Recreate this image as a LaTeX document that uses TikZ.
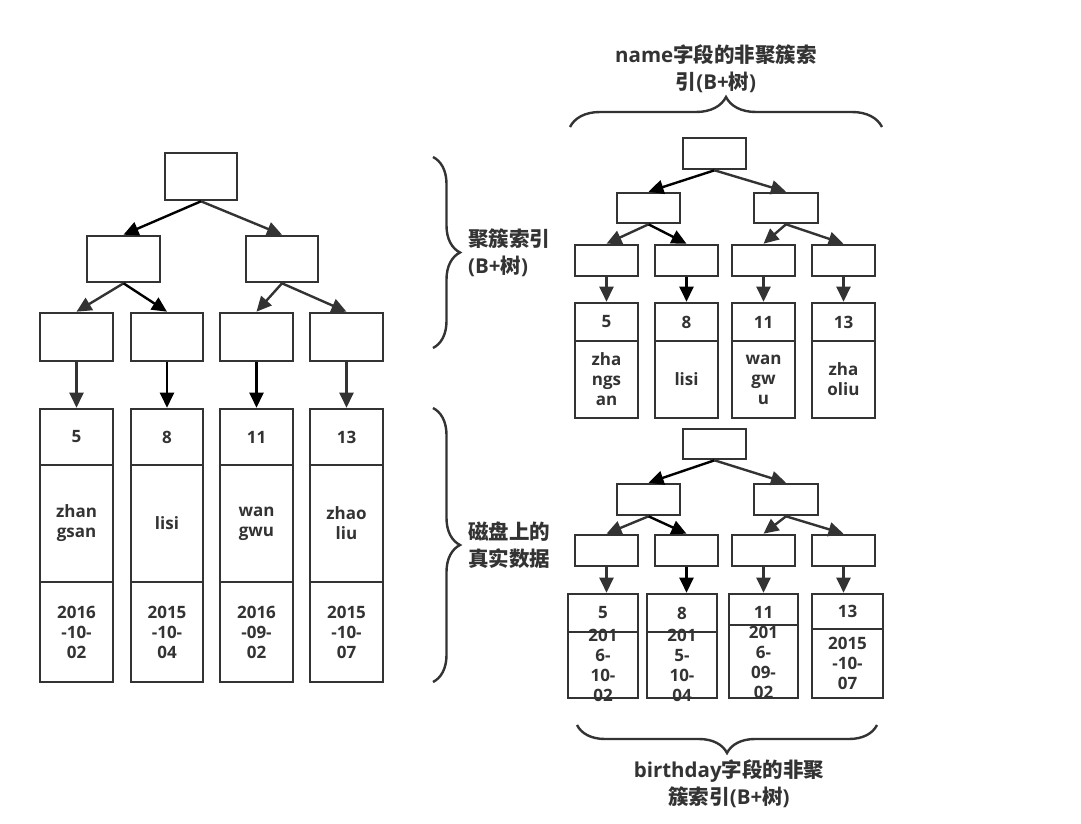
\documentclass[tikz,border=0pt]{standalone}
\usepackage{fontspec}
\setmainfont{Open Sans}
\newfontfamily\cjk{Noto Sans CJK SC}
\usetikzlibrary{arrows.meta,decorations.pathreplacing}
\definecolor{dk}{HTML}{333333}
\begin{document}
\begin{tikzpicture}[x=1pt,y=-1pt,
  box/.style={draw=dk, line width=2.6pt, inner sep=0pt, text=dk, align=center,
    font=\bfseries\fontsize{17}{20}\selectfont},
  txt/.style={inner sep=0pt, text=dk, align=center, font=\bfseries\fontsize{17}{20}\selectfont},
  arr/.style={draw=dk, line width=2.4pt, -{Triangle[length=15pt,width=14pt]}},
  arrk/.style={arr, draw=black},
  brc/.style={draw=dk, line width=2.4pt, decorate, decoration={brace, amplitude=#1}},
  lbl/.style={inner sep=0pt, text=dk, font=\bfseries\fontsize{20.5}{27}\selectfont}]
\useasboundingbox[fill=white] (0,0) rectangle (1081,824);

% ---------------- left tree ----------------
\node[box, minimum width=72, minimum height=47] (A0) at (201,176.5) {};
\node[box, minimum width=73, minimum height=46] (A1) at (123.5,259) {};
\node[box, minimum width=72, minimum height=46] (A2) at (282,259) {};
\node[box, minimum width=73, minimum height=48] (A3) at (76.5,337) {};
\node[box, minimum width=72, minimum height=48] (A4) at (167,337) {};
\node[box, minimum width=73, minimum height=48] (A5) at (256.5,337) {};
\node[box, minimum width=73, minimum height=48] (A6) at (346.5,337) {};

\node[box, minimum width=73, minimum height=56] (D1a) at (76.5,437) {5};
\node[box, minimum width=73, minimum height=117] (D1b) at (76.5,523.5) {zhan\\gsan};
\node[box, minimum width=73, minimum height=100] (D1c) at (76.5,632) {2016\\-10-\\02};
\node[box, minimum width=72, minimum height=56] (D2a) at (167,437) {8};
\node[box, minimum width=72, minimum height=117] (D2b) at (167,523.5) {lisi};
\node[box, minimum width=72, minimum height=100] (D2c) at (167,632) {2015\\-10-\\04};
\node[box, minimum width=73, minimum height=56] (D3a) at (256.5,437) {11};
\node[box, minimum width=73, minimum height=117] (D3b) at (256.5,523.5) {wan\\gwu};
\node[box, minimum width=73, minimum height=100] (D3c) at (256.5,632) {2016\\-09-\\02};
\node[box, minimum width=73, minimum height=56] (D4a) at (346.5,437) {13};
\node[box, minimum width=73, minimum height=117] (D4b) at (346.5,523.5) {zhao\\liu};
\node[box, minimum width=73, minimum height=100] (D4c) at (346.5,632) {2015\\-10-\\07};

\draw[arrk] (A0.south) -- (A1.north);
\draw[arr] (A0.south) -- (A2.north);
\draw[arr] (A1.south) -- (A3.north);
\draw[arrk] (A1.south) -- (A4.north);
\draw[arr] (A2.south) -- (A5.north);
\draw[arr] (A2.south) -- (A6.north);
\draw[arr] (A3.south) -- (D1a.north);
\draw[arrk] (A4.south) -- (D2a.north);
\draw[arrk] (A5.south) -- (D3a.north);
\draw[arr] (A6.south) -- (D4a.north);

% ---------------- top right tree (name) ----------------
\node[box, minimum width=63, minimum height=31] (B0) at (714.5,153.5) {};
\node[box, minimum width=63, minimum height=30] (B1) at (648.5,208) {};
\node[box, minimum width=64, minimum height=30] (B2) at (786,208) {};
\node[box, minimum width=63, minimum height=31] (B3) at (606.5,260.5) {};
\node[box, minimum width=63, minimum height=31] (B4) at (686.5,260.5) {};
\node[box, minimum width=63, minimum height=31] (B5) at (763.5,260.5) {};
\node[box, minimum width=63, minimum height=31] (B6) at (843.5,260.5) {};

\node[box, minimum width=63, minimum height=38] (E1a) at (606.5,322) {5};
\node[box, minimum width=63, minimum height=77] (E1b) at (606.5,379.5) {zha\\ngs\\an};
\node[box, minimum width=63, minimum height=38] (E2a) at (686.5,322) {8};
\node[box, minimum width=63, minimum height=77] (E2b) at (686.5,379.5) {lisi};
\node[box, minimum width=63, minimum height=38] (E3a) at (763.5,322) {11};
\node[box, minimum width=63, minimum height=77] (E3b) at (763.5,379.5) {wan\\gw\\u};
\node[box, minimum width=63, minimum height=38] (E4a) at (843.5,322) {13};
\node[box, minimum width=63, minimum height=77] (E4b) at (843.5,379.5) {zha\\oliu};

\draw[arrk] (B0.south) -- (B1.north);
\draw[arr] (B0.south) -- (B2.north);
\draw[arr] (B1.south) -- (B3.north);
\draw[arrk] (B1.south) -- (B4.north);
\draw[arr] (B2.south) -- (B5.north);
\draw[arr] (B2.south) -- (B6.north);
\draw[arr] (B3.south) -- (E1a.north);
\draw[arrk] (B4.south) -- (E2a.north);
\draw[arr] (B5.south) -- (E3a.north);
\draw[arr] (B6.south) -- (E4a.north);

% ---------------- bottom right tree (birthday) ----------------
\node[box, minimum width=63, minimum height=30] (C0) at (714.5,444) {};
\node[box, minimum width=63, minimum height=31] (C1) at (648.5,499.5) {};
\node[box, minimum width=64, minimum height=31] (C2) at (786,499.5) {};
\node[box, minimum width=63, minimum height=31] (C3) at (606.5,550.5) {};
\node[box, minimum width=63, minimum height=31] (C4) at (686.5,550.5) {};
\node[box, minimum width=63, minimum height=31] (C5) at (763.5,550.5) {};
\node[box, minimum width=63, minimum height=31] (C6) at (843.5,550.5) {};

\node[box, minimum width=70, minimum height=38] (F1a) at (603,613) {5};
\node[box, minimum width=70, minimum height=66] (F1b) at (603,665) {};
\node[box, minimum width=70, minimum height=38] (F2a) at (682,613) {8};
\node[box, minimum width=70, minimum height=66] (F2b) at (682,665) {};
\node[box, minimum width=69, minimum height=31] (F3a) at (763.5,609.5) {};
\node[box, minimum width=69, minimum height=73] (F3b) at (763.5,661.5) {};
\node[box, minimum width=71, minimum height=35] (F4a) at (847.5,611.5) {13};
\node[box, minimum width=71, minimum height=69] (F4b) at (847.5,663.5) {2015\\-10-\\07};
\node[txt] (F1t) at (603,665) {201\\6-\\10-\\02};
\node[txt] (F2t) at (682,665) {201\\5-\\10-\\04};
\node[txt] (F3n) at (763.5,612) {11};
\node[txt] (F3t) at (763.5,662) {201\\6-\\09-\\02};

\draw[arrk] (C0.south) -- (C1.north);
\draw[arr] (C0.south) -- (C2.north);
\draw[arr] (C1.south) -- (C3.north);
\draw[arrk] (C1.south) -- (C4.north);
\draw[arr] (C2.south) -- (C5.north);
\draw[arr] (C2.south) -- (C6.north);
\draw[arr] (C3.south) -- (C3.south |- F1a.north);
\draw[arrk] (C4.south) -- (C4.south |- F2a.north);
\draw[arr] (C5.south) -- (C5.south |- F3a.north);
\draw[arr] (C6.south) -- (C6.south |- F4a.north);

% ---------------- braces and labels ----------------
\coordinate (br1a) at (570,127);
\coordinate (br1b) at (882,127);
\draw[brc=30pt] (br1a) -- (br1b);
\node[lbl, align=center] (L1) at (716,69) {name{\cjk 字段的非聚簇索}\\{\cjk 引}(B+{\cjk 树})};

\coordinate (br2a) at (433,157);
\coordinate (br2b) at (433,348);
\draw[brc=27pt] (br2a) -- (br2b);
\node[lbl, align=left, anchor=west] (L2) at (468,252.5) {{\cjk 聚簇索引}\\(B+{\cjk 树})};

\coordinate (br3a) at (433,408);
\coordinate (br3b) at (433,682);
\draw[brc=27pt] (br3a) -- (br3b);
\node[lbl, align=left, anchor=west] (L3) at (468,545) {{\cjk 磁盘上的}\\{\cjk 真实数据}};

\coordinate (br4a) at (877,725);
\coordinate (br4b) at (577,725);
\draw[brc=28pt] (br4a) -- (br4b);
\node[lbl, align=center] (L4) at (729,783.5) {birthday{\cjk 字段的非聚}\\{\cjk 簇索引}(B+{\cjk 树})};
\end{tikzpicture}
\end{document}
